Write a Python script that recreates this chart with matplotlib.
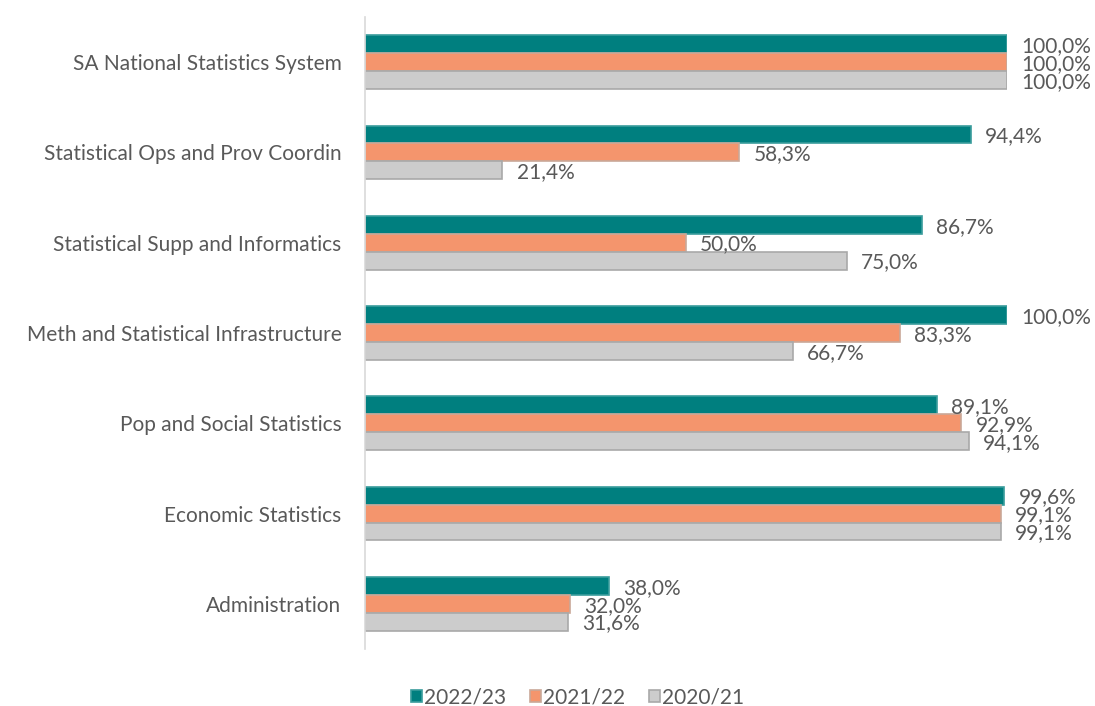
import matplotlib
matplotlib.use("Agg")
import matplotlib.pyplot as plt
from matplotlib.patches import Patch
import numpy as np

categories = ["SA National Statistics System", "Statistical Ops and Prov Coordin",
              "Statistical Supp and Informatics", "Meth and Statistical Infrastructure",
              "Pop and Social Statistics", "Economic Statistics", "Administration"]
series_names = ["2022/23", "2021/22", "2020/21"]
v2223 = [100.0, 94.4, 86.7, 100.0, 89.1, 99.6, 38.0]
v2122 = [100.0, 58.3, 50.0, 83.3, 92.9, 99.1, 32.0]
v2021 = [100.0, 21.4, 75.0, 66.7, 94.1, 99.1, 31.6]

colors = ["#007F7F", "#F4956D", "#CCCCCC"]
edges = ["#3A9C9C", "#C9A898", "#A9A9A9"]

plt.rcParams['font.family'] = ['Lato', 'DejaVu Sans']
fig = plt.figure(figsize=(10.95, 7.06), dpi=100)
ax = fig.add_axes([365/1095, (706-649)/706, 642/1095, 632/706])

n = len(categories)
y = np.arange(n)
h = 0.198
txt = "#595959"
fs = 15
for i, (vals, c, e) in enumerate(zip([v2223, v2122, v2021], colors, edges)):
    pos = y - h + i * h
    ax.barh(pos, vals, height=h, color=c, edgecolor=e, linewidth=1.2, label=series_names[i])
    for p, v in zip(pos, vals):
        ax.text(v + 2.2, p + 0.02, f"{v:.1f}%".replace(".", ","), va="center", ha="left",
                fontsize=fs, color=txt, clip_on=False)

ax.set_xlim(0, 100)
ax.set_ylim(n - 0.5, -0.5)
ax.set_yticks(y)
ax.set_yticklabels(categories, fontsize=fs, color=txt)
ax.tick_params(axis="y", length=0, pad=17)
ax.set_xticks([])
for s in ["top", "right", "bottom"]:
    ax.spines[s].set_visible(False)
ax.spines["left"].set_color("#D9D9D9")
ax.spines["left"].set_linewidth(1.2)

handles = [Patch(facecolor=c, edgecolor=e, linewidth=1.2) for c, e in zip(colors, edges)]
leg = fig.legend(handles, series_names, loc="center", bbox_to_anchor=(578/1095, 1 - 697/706),
                 ncol=3, frameon=False, fontsize=fs, handlelength=0.5, handleheight=0.5,
                 handletextpad=0.12, columnspacing=1.15, labelcolor=txt)

fig.savefig("out.png", dpi=100)
